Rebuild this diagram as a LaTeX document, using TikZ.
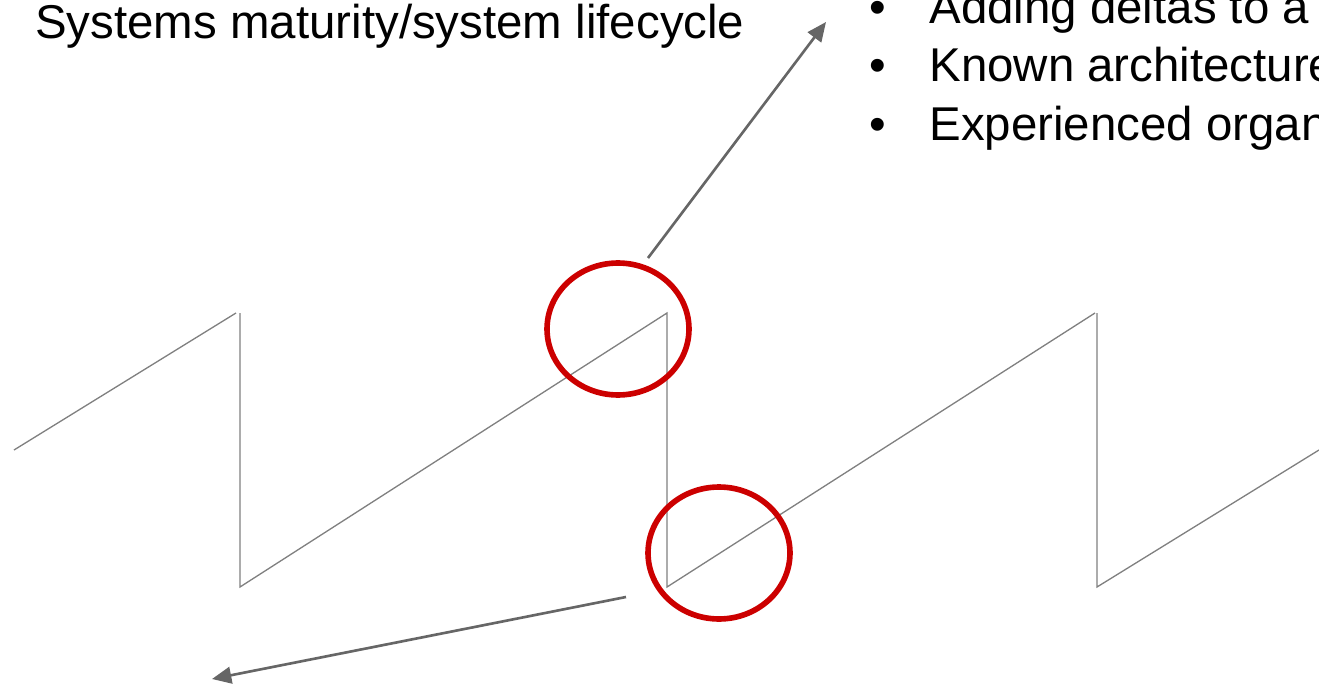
\documentclass[tikz,border=0pt]{standalone}
\usepackage{fontspec}
\setmainfont{Liberation Sans}
\usetikzlibrary{arrows.meta, shapes.geometric}
\definecolor{sawgray}{HTML}{808080}
\definecolor{arrowgray}{HTML}{666666}
\definecolor{ringred}{HTML}{CC0000}

\begin{document}
\begin{tikzpicture}[
    x=0.02cm, y=-0.02cm,
    bigtext/.style={font=\fontsize{27}{33}\selectfont, inner sep=0pt, anchor=base west},
    ring/.style={draw=ringred, line width=3.2pt, ellipse, inner sep=0pt,
        minimum width=2.84cm, minimum height=2.64cm},
    pointer/.style={draw=arrowgray, line width=1.5pt, -{Triangle[length=11pt, width=9.5pt]}},
]
    \useasboundingbox (0,0) rectangle (1319,686);
    \clip (0,0) rectangle (1319,686);

    % lifecycle sawtooth
    \draw[sawgray, line width=0.75pt] (14,450) -- (236,313)
        (240,313) -- (240,587) -- (667,313) -- (667,587) -- (1095,313)
        (1097,313) -- (1097,587) -- (1319,450);

    % highlighted spots
    \node[ring] (peak) at (618,329) {};
    \node[ring] (reset) at (719,553) {};

    % labels
    \node[bigtext] (title) at (35,39) {Systems maturity/system lifecycle};

    \node[bigtext] (dotA) at (869,23.5) {•};
    \node[bigtext] (itemA) at (929,23.5) {Adding deltas to a};
    \node[bigtext] (dotB) at (869,82) {•};
    \node[bigtext] (itemB) at (929,82) {Known architecture};
    \node[bigtext] (dotC) at (869,140.5) {•};
    \node[bigtext] (itemC) at (929,140.5) {Experienced organ};

    % pointers out of the circles
    \coordinate (peakout) at (648,258);
    \coordinate (peaktip) at (826,22);
    \coordinate (resetout) at (626,597);
    \coordinate (resettip) at (212,679);
    \draw[pointer] (peakout) -- (peaktip);
    \draw[pointer] (resetout) -- (resettip);
\end{tikzpicture}
\end{document}
